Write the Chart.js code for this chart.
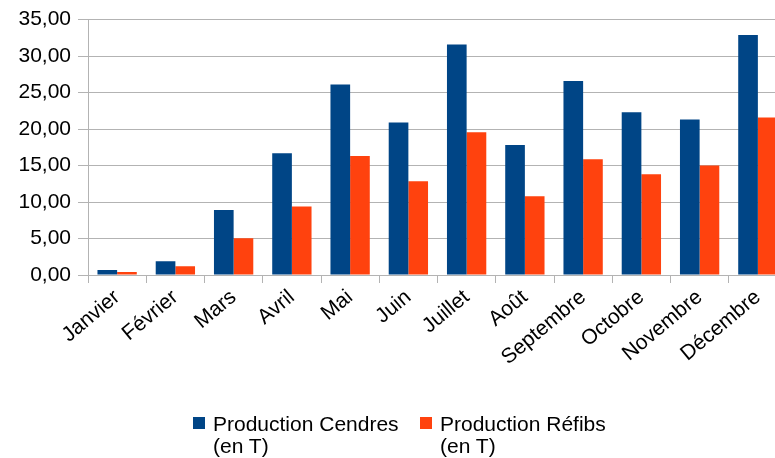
<!DOCTYPE html>
<html>
<head>
<meta charset="utf-8">
<script src="https://cdn.jsdelivr.net/npm/chart.js@4"></script>
<style>
  html, body { margin: 0; padding: 0; background: #fff; }
  #wrap { position: relative; width: 775px; height: 458px; overflow: hidden; }
  #c { position: absolute; left: 0; top: 0; }
  .leg { position: absolute; font-family: "Liberation Sans", Arial, sans-serif; font-size: 21px; line-height: 22px; color: #000; white-space: nowrap; }
  .sw { position: absolute; width: 12px; height: 12px; }
</style>
</head>
<body>
<div id="wrap">
  <canvas id="c" width="787" height="458"></canvas>
  <div class="sw" style="left:193px; top:417px; background:#004586"></div>
  <div class="leg" style="left:213px; top:413px">Production Cendres<br>(en T)</div>
  <div class="sw" style="left:420px; top:417px; background:#ff420e"></div>
  <div class="leg" style="left:440px; top:413px">Production Réfibs<br>(en T)</div>
</div>
<script>
const categories = ["Janvier","Février","Mars","Avril","Mai","Juin","Juillet","Août","Septembre","Octobre","Novembre","Décembre"];
const cendres = [0.68, 1.9, 8.9, 16.7, 26.1, 20.9, 31.6, 17.8, 26.6, 22.3, 21.3, 32.9];
const refibs  = [0.40, 1.2, 5.05, 9.4, 16.3, 12.85, 19.55, 10.8, 15.85, 13.8, 15.0, 21.6];
const seriesNames = ["Production Cendres (en T)", "Production Réfibs (en T)"];
const yTicks = [0, 5, 10, 15, 20, 25, 30, 35];

const fontFam = '"Liberation Sans", Arial, sans-serif';
new Chart(document.getElementById('c'), {
  type: 'bar',
  data: {
    labels: categories,
    datasets: [
      { label: seriesNames[0], data: cendres, backgroundColor: '#004586', borderWidth: 0 },
      { label: seriesNames[1], data: refibs, backgroundColor: '#ff420e', borderWidth: 0 }
    ]
  },
  options: {
    responsive: false,
    animation: false,
    devicePixelRatio: 1,
    layout: { padding: { top: 19, right: 0, left: 0, bottom: 0 } },
    plugins: { legend: { display: false }, tooltip: { enabled: false } },
    datasets: { bar: { categoryPercentage: 0.675, barPercentage: 1.0 } },
    scales: {
      x: {
        grid: { drawOnChartArea: false, drawTicks: true, tickLength: 8, color: '#b3b3b3', offset: true },
        border: { color: '#b3b3b3' },
        ticks: { color: '#000', font: { family: fontFam, size: 21 }, minRotation: 40, maxRotation: 40, padding: 2, autoSkip: false },
        afterFit: (s) => { s.height = 458 - 275; }
      },
      y: {
        min: 0, max: 35,
        afterBuildTicks: (s) => { s.ticks = yTicks.map(v => ({ value: v })); },
        grid: { color: '#b3b3b3', tickLength: 10 },
        border: { color: '#b3b3b3' },
        ticks: { color: '#000', font: { family: fontFam, size: 21 }, padding: 7,
                 callback: (v) => v.toFixed(2).replace('.', ',') },
        afterFit: (s) => { s.width = 88; }
      }
    }
  }
});
</script>
</body>
</html>
